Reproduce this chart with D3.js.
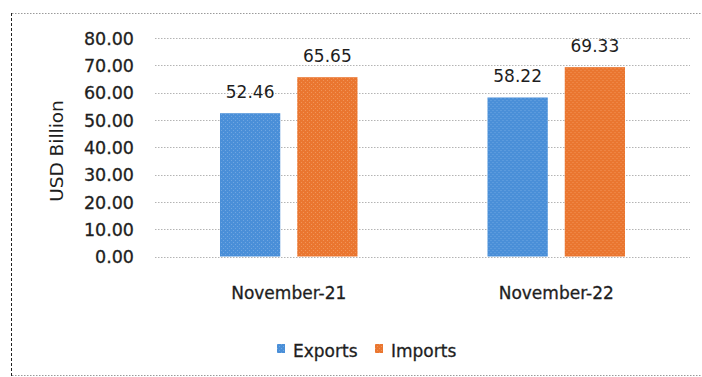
<!DOCTYPE html>
<html>
<head>
<meta charset="utf-8">
<script src="https://cdn.jsdelivr.net/npm/d3@7/dist/d3.min.js"></script>
<style>
  html, body { margin: 0; padding: 0; background: #fff; }
  svg { display: block; }
  text { font-family: "DejaVu Sans", Verdana, sans-serif; fill: #1e1e1e; }
</style>
</head>
<body>
<svg id="chart" width="702" height="377"></svg>
<script>
// Monthly merchandise trade, USD billion
const categories = ["November-21", "November-22"];
const seriesNames = ["Exports", "Imports"];
const exportsValues = [52.46, 58.22];
const importsValues = [65.65, 69.33];
const yTicks = [0, 10, 20, 30, 40, 50, 60, 70, 80];
const seriesColors = ["#4a8fd8", "#ea7630"];
const seriesDots = ["#7fb0e6", "#f4a26a"];

const svg = d3.select("#chart");
const W = 702, H = 377;

// textured fills for the bars
const defs = svg.append("defs");
seriesNames.forEach((s, i) => {
  const p = defs.append("pattern")
    .attr("id", "fill-" + i)
    .attr("width", 4).attr("height", 4)
    .attr("patternUnits", "userSpaceOnUse");
  p.append("rect").attr("width", 4).attr("height", 4).attr("fill", seriesColors[i]);
  p.append("rect").attr("x", 0).attr("y", 0).attr("width", 1).attr("height", 1)
    .attr("fill", seriesDots[i]).attr("opacity", 0.7);
  p.append("rect").attr("x", 2).attr("y", 2).attr("width", 1).attr("height", 1)
    .attr("fill", seriesDots[i]).attr("opacity", 0.7);
});

// frame: dark dashed left edge, light dotted top and bottom
svg.append("line")
  .attr("x1", 11.5).attr("x2", 11.5).attr("y1", 13).attr("y2", 376)
  .attr("stroke", "#222").attr("stroke-dasharray", "3,2");
svg.append("line")
  .attr("x1", 12).attr("x2", W).attr("y1", 13.5).attr("y2", 13.5)
  .attr("stroke", "#9a9a9a").attr("stroke-dasharray", "1.5,1.5");
svg.append("line")
  .attr("x1", 12).attr("x2", W).attr("y1", 375.5).attr("y2", 375.5)
  .attr("stroke", "#9a9a9a").attr("stroke-dasharray", "1.5,1.5");

const plot = { left: 155, right: 690, top: 38, bottom: 256.5 };

const x0 = d3.scaleBand()
  .domain(categories)
  .range([plot.left, plot.right])
  .paddingInner(0)
  .paddingOuter(0);

const x1 = d3.scaleBand()
  .domain(seriesNames)
  .range([65, x0.bandwidth() - 65])
  .paddingInner(0.22);

const y = d3.scaleLinear()
  .domain([0, 80])
  .range([plot.bottom, plot.top]);

// gridlines
svg.append("g")
  .selectAll("line")
  .data(yTicks)
  .join("line")
  .attr("x1", plot.left).attr("x2", plot.right)
  .attr("y1", d => Math.round(y(d)) + 0.5)
  .attr("y2", d => Math.round(y(d)) + 0.5)
  .attr("stroke", "#b4b4b4")
  .attr("stroke-width", 1)
  .attr("stroke-dasharray", "1.5,1.5");

// y axis labels
const yAxis = d3.axisLeft(y)
  .tickValues(yTicks)
  .tickFormat(d3.format(".2f"))
  .tickSize(0)
  .tickPadding(0);

const yg = svg.append("g")
  .attr("transform", `translate(134,0)`)
  .call(yAxis);
yg.select(".domain").remove();
yg.selectAll("text")
  .style("font-family", "'DejaVu Sans', Verdana, sans-serif")
  .style("font-size", "17.5px")
  .attr("fill", "#1e1e1e")
  .attr("stroke", "#1e1e1e")
  .attr("stroke-width", 0.3)
  .attr("dy", "0.36em");

// y axis title
svg.append("text")
  .attr("transform", "translate(63,151) rotate(-90)")
  .attr("text-anchor", "middle")
  .style("font-size", "18.5px")
  .attr("fill", "#2a2a2a")
  .text("USD Billion");

// bars
const rows = categories.map((c, i) => ({
  category: c,
  values: [
    { series: seriesNames[0], idx: 0, value: exportsValues[i] },
    { series: seriesNames[1], idx: 1, value: importsValues[i] }
  ]
}));

const groups = svg.append("g")
  .selectAll("g")
  .data(rows)
  .join("g")
  .attr("transform", d => `translate(${x0(d.category)},0)`);

groups.selectAll("rect")
  .data(d => d.values)
  .join("rect")
  .attr("x", d => x1(d.series))
  .attr("y", d => y(d.value))
  .attr("width", x1.bandwidth())
  .attr("height", d => y(0) - y(d.value))
  .attr("fill", d => `url(#fill-${d.idx})`);

// value labels
groups.selectAll("text.value")
  .data(d => d.values)
  .join("text")
  .attr("class", "value")
  .attr("x", d => x1(d.series) + x1.bandwidth() / 2)
  .attr("y", d => y(d.value) - 15)
  .attr("text-anchor", "middle")
  .style("font-size", "17px")
  .text(d => d3.format(".2f")(d.value));

// category labels
const xAxis = d3.axisBottom(x0).tickSize(0).tickPadding(0);
const xg = svg.append("g")
  .attr("transform", `translate(0,299)`)
  .call(xAxis);
xg.select(".domain").remove();
xg.selectAll("text")
  .style("font-family", "'DejaVu Sans', Verdana, sans-serif")
  .style("font-size", "17px")
  .attr("fill", "#1e1e1e")
  .attr("stroke", "#1e1e1e")
  .attr("stroke-width", 0.3)
  .attr("dy", 0);

// legend
const legendItems = [
  { name: seriesNames[0], idx: 0, x: 277 },
  { name: seriesNames[1], idx: 1, x: 375 }
];
const lg = svg.append("g")
  .selectAll("g")
  .data(legendItems)
  .join("g")
  .attr("transform", d => `translate(${d.x},344)`);
lg.append("rect")
  .attr("width", 8).attr("height", 9)
  .attr("fill", d => `url(#fill-${d.idx})`);
lg.append("text")
  .attr("x", 16).attr("y", 13)
  .style("font-size", "17px")
  .attr("stroke", "#1e1e1e")
  .attr("stroke-width", 0.3)
  .text(d => d.name);
</script>
</body>
</html>
